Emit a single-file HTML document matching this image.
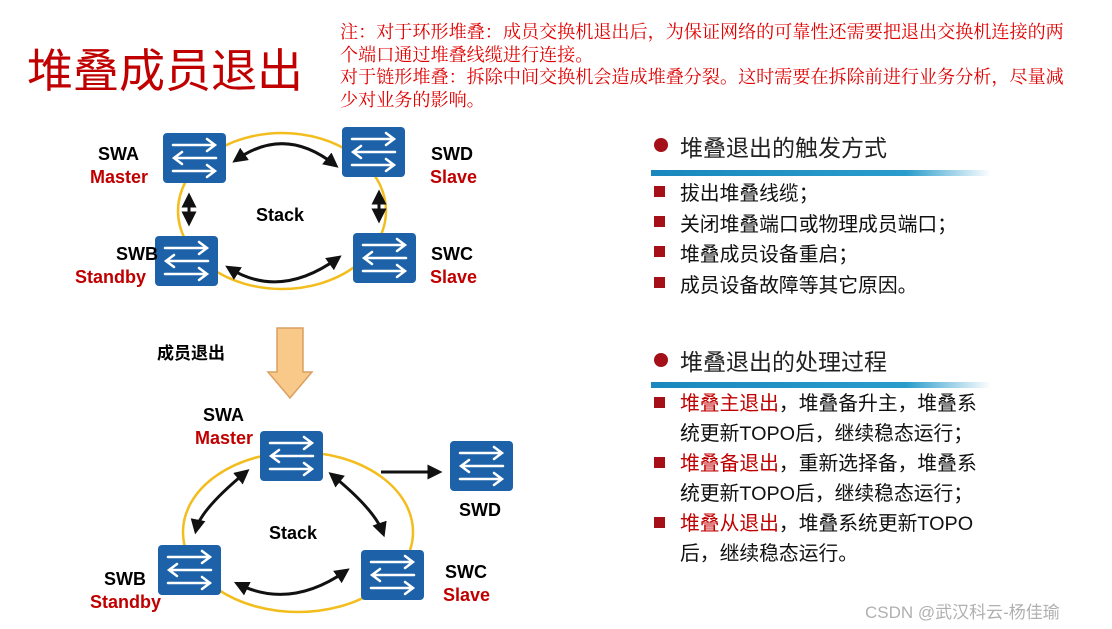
<!DOCTYPE html>
<html><head><meta charset="utf-8"><style>
body{margin:0;width:1112px;height:629px;background:#fff;overflow:hidden;position:relative;font-family:"Liberation Sans","Noto Sans CJK SC",sans-serif}
.t{position:absolute;white-space:nowrap}
</style></head><body>
<svg width="1112" height="629" style="position:absolute;left:0;top:0">
<defs>
<g id="sw">
<rect x="0" y="0" width="63" height="50" rx="4" fill="#1d62a8"/>
<g stroke="#fff" stroke-width="2.5" fill="none" stroke-linecap="round">
<path d="M10 12H52M44 6L52 12L44 18"/>
<path d="M53 25H11M19 19L11 25L19 31"/>
<path d="M10 38H52M44 32L52 38L44 44"/>
</g></g>
<marker id="ah" viewBox="0 0 10 10" refX="7" refY="5" markerWidth="5" markerHeight="5" orient="auto-start-reverse"><path d="M0 0L10 5L0 10z" fill="#111"/></marker>
<linearGradient id="bar" x1="0" x2="1"><stop offset="0" stop-color="#1a88be"/><stop offset="0.75" stop-color="#2a9ccc"/><stop offset="1" stop-color="#2a9ccc" stop-opacity="0"/></linearGradient>
</defs>
<ellipse cx="282" cy="211" rx="104" ry="78" fill="none" stroke="#f2bd1d" stroke-width="2.5"/>
<use href="#sw" x="163" y="133"/><use href="#sw" x="342" y="127"/>
<use href="#sw" x="155" y="236"/><use href="#sw" x="353" y="233"/>
<g stroke="#111" stroke-width="3" fill="none" marker-start="url(#ah)" marker-end="url(#ah)">
<path d="M236 160Q285 125 335 165"/>
<path d="M229 268Q280 300 338 258"/>
<path d="M189 197V222"/><path d="M379 194V219"/>
</g>
<path d="M277 328H303V372H312L290 398L268 372H277Z" fill="#f9c98a" stroke="#d9a060" stroke-width="1.5"/>
<ellipse cx="298" cy="532" rx="115" ry="80" fill="none" stroke="#f2bd1d" stroke-width="2.5"/>
<use href="#sw" x="260" y="431"/><use href="#sw" x="450" y="441"/>
<use href="#sw" x="158" y="545"/><use href="#sw" x="361" y="550"/>
<g stroke="#111" stroke-width="3" fill="none" marker-start="url(#ah)" marker-end="url(#ah)">
<path d="M246 472Q200 510 196 530"/>
<path d="M332 475Q375 510 383 533"/>
<path d="M238 584Q290 610 346 571"/>
</g>
<path d="M381 472H438" stroke="#111" stroke-width="3" marker-end="url(#ah)"/>
<circle cx="661" cy="145" r="7" fill="#a50f18"/>
<rect x="651" y="170" width="340" height="6" fill="url(#bar)"/>
<circle cx="661" cy="360" r="7" fill="#a50f18"/>
<rect x="651" y="382" width="340" height="6" fill="url(#bar)"/>
<g fill="#a50f18"><rect x="654" y="186" width="11" height="11"/><rect x="654" y="216" width="11" height="11"/><rect x="654" y="246" width="11" height="11"/><rect x="654" y="277" width="11" height="11"/><rect x="654" y="397" width="11" height="11"/><rect x="654" y="457" width="11" height="11"/><rect x="654" y="517" width="11" height="11"/></g>
</svg>
<div class="t" style="left:27px;top:35px;font-size:46px;color:#c00000">堆叠成员退出</div>
<div class="t" style="left:340px;top:21px;font-size:18.1px;line-height:22.5px;color:#e00000;font-family:'Liberation Serif','Noto Serif CJK SC',serif">注：对于环形堆叠：成员交换机退出后，为保证网络的可靠性还需要把退出交换机连接的两<br>个端口通过堆叠线缆进行连接。<br>对于链形堆叠：拆除中间交换机会造成堆叠分裂。这时需要在拆除前进行业务分析，尽量减<br>少对业务的影响。</div>
<div style="font-weight:bold;font-size:18px;line-height:23px;position:absolute;left:0;top:0">
<div class="t" style="left:98px;top:143px">SWA</div><div class="t" style="left:90px;top:166px;color:#c00000">Master</div>
<div class="t" style="left:431px;top:143px">SWD</div><div class="t" style="left:430px;top:166px;color:#c00000">Slave</div>
<div class="t" style="left:256px;top:204px">Stack</div>
<div class="t" style="left:116px;top:243px">SWB</div><div class="t" style="left:75px;top:266px;color:#c00000">Standby</div>
<div class="t" style="left:431px;top:243px">SWC</div><div class="t" style="left:430px;top:266px;color:#c00000">Slave</div>
<div class="t" style="left:157px;top:342px;font-size:17px">成员退出</div>
<div class="t" style="left:203px;top:404px">SWA</div><div class="t" style="left:195px;top:427px;color:#c00000">Master</div>
<div class="t" style="left:459px;top:499px">SWD</div>
<div class="t" style="left:269px;top:522px">Stack</div>
<div class="t" style="left:104px;top:568px">SWB</div><div class="t" style="left:90px;top:591px;color:#c00000">Standby</div>
<div class="t" style="left:445px;top:561px">SWC</div><div class="t" style="left:443px;top:584px;color:#c00000">Slave</div>
</div>
<div class="t" style="left:680px;top:129px;font-size:23px;color:#222">堆叠退出的触发方式</div>
<div class="t" style="left:680px;top:179px;font-size:19.8px;line-height:30.5px;color:#111">拔出堆叠线缆；<br>关闭堆叠端口或物理成员端口；<br>堆叠成员设备重启；<br>成员设备故障等其它原因。</div>
<div class="t" style="left:680px;top:343px;font-size:23px;color:#222">堆叠退出的处理过程</div>
<div class="t" style="left:680px;top:389px;font-size:19.8px;line-height:30px;color:#111"><span style="color:#c00000">堆叠主退出</span>，堆叠备升主，堆叠系<br>统更新TOPO后，继续稳态运行；<br><span style="color:#c00000">堆叠备退出</span>，重新选择备，堆叠系<br>统更新TOPO后，继续稳态运行；<br><span style="color:#c00000">堆叠从退出</span>，堆叠系统更新TOPO<br>后，继续稳态运行。</div>
<div class="t" style="left:865px;top:598px;font-size:17px;color:#b0b0b0">CSDN @武汉科云-杨佳瑜</div>
</body></html>
